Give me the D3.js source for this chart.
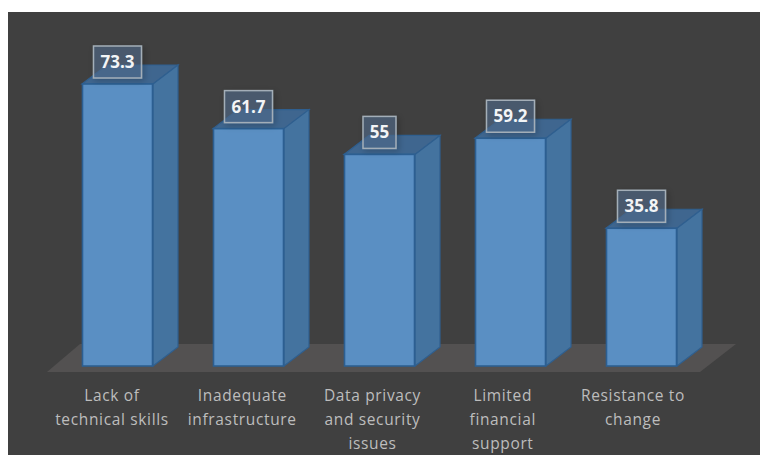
<!DOCTYPE html>
<html>
<head>
<meta charset="utf-8">
<script src="https://cdn.jsdelivr.net/npm/d3@7/dist/d3.min.js"></script>
<style>
html,body{margin:0;padding:0;background:#fff;overflow:hidden;}
svg{display:block;}
</style>
</head>
<body>
<svg id="chart" width="760" height="455"></svg>
<script>
const categories = ["Lack of technical skills","Inadequate infrastructure","Data privacy and security issues","Limited financial support","Resistance to change"];
const values = [73.3,61.7,55,59.2,35.8];
const labelLines = [["Lack of","technical skills"],["Inadequate","infrastructure"],["Data privacy","and security","issues"],["Limited","financial","support"],["Resistance to","change"]];

const svg = d3.select("#chart");
const baseY = 366, depthX = 25, depthY = 19;

const x = d3.scaleBand().domain(categories).range([52,707]).paddingInner(0.4580).paddingOuter(0.229);
const y = d3.scaleLinear().domain([0,73.3]).range([baseY,84]);
const labelX = d3.scalePoint().domain(categories).range([112,633]);

// Soft shadow behind the value boxes
const shadow = svg.append("defs").append("filter").attr("id","tagShadow")
  .attr("x","-30%").attr("y","-30%").attr("width","160%").attr("height","160%");
shadow.append("feDropShadow").attr("dx",2).attr("dy",2).attr("stdDeviation",3)
  .attr("flood-color","#000").attr("flood-opacity",0.3);

// Plot background
svg.append("rect").attr("x",8).attr("y",12).attr("width",752).attr("height",443).attr("fill","#404040");

// Floor of the 3D plot area
svg.append("polygon")
  .attr("points","47,372 80,344 736,344 700,372")
  .attr("fill","#535151");

const bars = svg.append("g").selectAll("g").data(categories).join("g");
const val = (i)=>values[i];

// Top face
bars.append("polygon")
  .attr("points",(d,i)=>{
    const l=x(d), r=l+x.bandwidth(), t=y(val(i));
    return [[l,t],[l+depthX,t-depthY],[r+depthX,t-depthY],[r,t]].join(" ");
  })
  .attr("fill","#3f668f").attr("stroke","#2f5f8f").attr("stroke-width",1.2);

// Side face
bars.append("polygon")
  .attr("points",(d,i)=>{
    const r=x(d)+x.bandwidth(), t=y(val(i));
    return [[r,t],[r+depthX,t-depthY],[r+depthX,baseY-depthY],[r,baseY]].join(" ");
  })
  .attr("fill","#44739f").attr("stroke","#2f5f8f").attr("stroke-width",1.2);

// Front face
bars.append("rect")
  .attr("x",d=>x(d)+0.5)
  .attr("y",(d,i)=>y(val(i)))
  .attr("width",x.bandwidth()-1)
  .attr("height",(d,i)=>baseY-y(val(i)))
  .attr("fill","#5a8fc3").attr("stroke","#2c5f92").attr("stroke-width",1.6);

// Value labels in translucent boxes
const tags = svg.append("g").selectAll("g").data(categories).join("g")
  .attr("transform",(d,i)=>`translate(${x(d)+x.bandwidth()/2},${y(val(i))-22})`);
tags.append("rect")
  .attr("x",(d,i)=>-(String(val(i)).length>2?24:16.5))
  .attr("y",-16)
  .attr("width",(d,i)=>String(val(i)).length>2?48:33)
  .attr("height",32)
  .attr("fill","#52708f").attr("fill-opacity",0.55)
  .attr("stroke","#a3aeb8").attr("stroke-width",1.5)
  .attr("filter","url(#tagShadow)");
tags.append("text")
  .attr("text-anchor","middle").attr("y",6)
  .attr("font-family","'Open Sans',sans-serif").attr("font-weight",700).attr("font-size",17)
  .attr("fill","#f2f4f6")
  .text((d,i)=>val(i));

// Category labels
const cats = svg.append("g").selectAll("text").data(categories).join("text")
  .attr("text-anchor","middle")
  .attr("font-family","'Open Sans',sans-serif").attr("font-size",15.5)
  .attr("letter-spacing",0.65)
  .attr("fill","#bdbdbd");
cats.each(function(d,i){
  d3.select(this).selectAll("tspan").data(labelLines[i]).join("tspan")
    .attr("x",labelX(d)).attr("y",(l,j)=>401+j*24.2).text(l=>l);
});
</script>
</body>
</html>
